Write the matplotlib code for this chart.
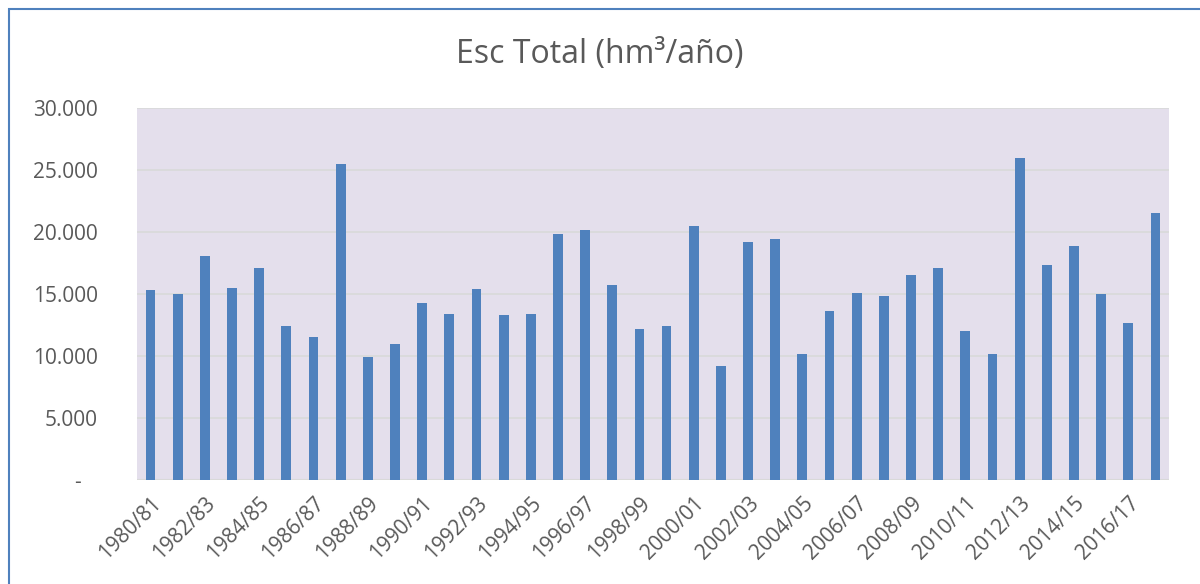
import matplotlib.pyplot as plt
import matplotlib.patches as mpatches
import numpy as np

# water years 1980/81 .. 2017/18
years = [f"{y}/{str(y + 1)[-2:]}" for y in range(1980, 2018)]
esc_total = [15300, 15000, 18100, 15500, 17100, 12400, 11500, 25500, 9900, 11000,
             14300, 13400, 15400, 13300, 13400, 19800, 20200, 15700, 12200, 12400,
             20500, 9200, 19200, 19400, 10200, 13600, 15100, 14800, 16500, 17100,
             12000, 10200, 26000, 17300, 18900, 15000, 12700, 21500]
y_ticks = [0, 5000, 10000, 15000, 20000, 25000, 30000]
y_labels = ['-   ', '5.000', '10.000', '15.000', '20.000', '25.000', '30.000']

plt.rcParams['font.family'] = ['Open Sans', 'DejaVu Sans']

fig = plt.figure(figsize=(12, 5.84), dpi=100)
ax = fig.add_axes([137 / 1200, 1 - 480 / 584, 1032 / 1200, 372 / 584])

x = np.arange(len(years))
ax.bar(x, esc_total, width=0.36, color='#4F81BD', zorder=3)

ax.set_facecolor('#E4DFEC')
ax.set_xlim(-0.5, len(years) - 0.5)
ax.set_ylim(0, 30000)
ax.set_yticks(y_ticks)
ax.set_yticklabels(y_labels)
ax.grid(axis='y', color='#D9D9D9', linewidth=1.2, zorder=0)
for s in ax.spines.values():
    s.set_visible(False)
ax.axhline(0, color='#D9D9D9', linewidth=1.5, zorder=2)

ax.set_xticks(x[::2])
ax.set_xticklabels(years[::2], rotation=45, ha='right', rotation_mode='anchor')
ax.tick_params(axis='both', length=0, labelsize=15, colors='#595959')
ax.tick_params(axis='x', pad=9)
ax.tick_params(axis='y', pad=28)

fig.text(0.5, 1 - 55 / 584, 'Esc Total (hm³/año)', ha='center', va='center',
         fontsize=23, color='#595959')

# chart frame, cropped at the right and bottom
frame = mpatches.Rectangle((8.5 / 1200, -0.1), 1.2, 1 - 9.5 / 584 + 0.1,
                           transform=fig.transFigure, fill=False,
                           edgecolor='#4F81BD', linewidth=1.5)
fig.patches.append(frame)

fig.savefig('out.png', dpi=100)
